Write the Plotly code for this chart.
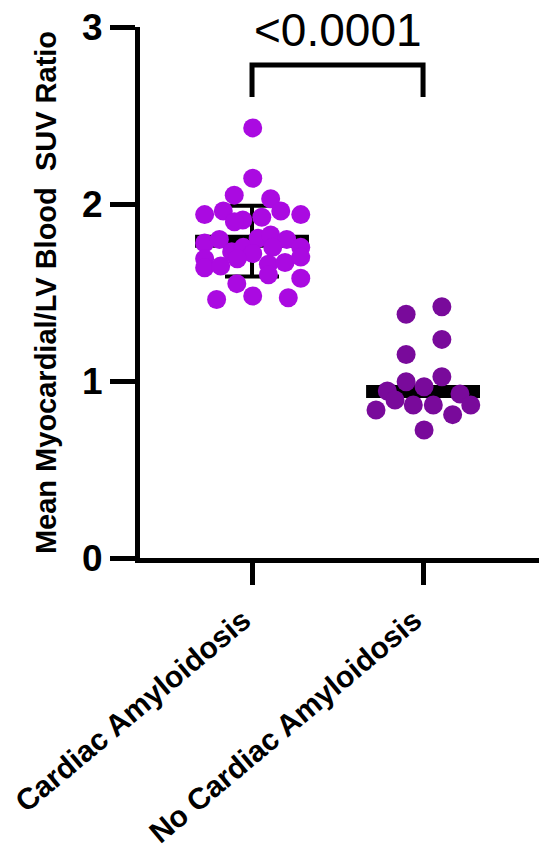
import plotly.graph_objects as go

categories = ["Cardiac Amyloidosis", "No Cardiac Amyloidosis"]

# group 1: Cardiac Amyloidosis (values and horizontal scatter offsets in category units)
ca_values = [2.43, 2.145, 2.05, 2.03, 1.94, 1.96, 1.91, 1.90, 1.925, 1.96, 1.94,
             1.78, 1.80, 1.73, 1.755, 1.806, 1.825, 1.80, 1.755, 1.72, 1.69, 1.755,
             1.69, 1.64, 1.65, 1.66, 1.67, 1.70, 1.60, 1.58, 1.55, 1.48, 1.46, 1.47]
ca_offsets = [0.004, 0.004, -0.104, 0.109, -0.277, -0.168, -0.054, -0.103, 0.057, 0.168, 0.285,
              -0.277, -0.191, -0.119, -0.051, 0.036, 0.109, 0.203, 0.285, 0.004, -0.086, 0.121,
              -0.277, -0.277, -0.183, 0.096, 0.193, 0.285, 0.096, 0.285, -0.089, 0.004, -0.207, 0.212]

# group 2: No Cardiac Amyloidosis
nca_values = [1.377, 1.42, 1.235, 1.15, 1.024, 0.996, 0.968, 0.943,
              0.893, 0.864, 0.864, 0.927, 0.864, 0.836, 0.81, 0.723]
nca_offsets = [-0.099, 0.110, 0.110, -0.099, 0.110, -0.099, 0.006, -0.209,
               -0.164, -0.057, 0.060, 0.216, 0.279, -0.275, 0.173, 0.006]

center_values = [1.79, 0.94]
error_sd = [0.20, None]
p_text = "<0.0001"
bracket_y = [2.605, 2.785]

yticks = [0, 1, 2, 3]
ytitle = "Mean Myocardial/LV Blood  SUV Ratio"

colors = ["#AA0AE1", "#790A9B"]
FONT = "Arial, Liberation Sans, sans-serif"

fig = go.Figure()

# error bar (group 1 only)
fig.add_trace(go.Scatter(
    x=[0], y=[center_values[0]], mode="markers",
    marker=dict(size=1, color="rgba(0,0,0,0)"),
    error_y=dict(type="data", array=[error_sd[0]], thickness=4, width=27, color="black"),
    showlegend=False, hoverinfo="skip"))

# mean lines
half = 0.333
for i, c in enumerate(center_values):
    fig.add_trace(go.Scatter(
        x=[i - half, i + half], y=[c, c], mode="lines",
        line=dict(color="black", width=13), showlegend=False, hoverinfo="skip"))

# dots
groups = [(ca_values, ca_offsets), (nca_values, nca_offsets)]
for i, (vals, offs) in enumerate(groups):
    fig.add_trace(go.Scatter(
        x=[i + o for o in offs], y=vals, mode="markers",
        marker=dict(size=19, color=colors[i], line=dict(width=0)),
        showlegend=False, cliponaxis=False))

# significance bracket
fig.add_shape(type="path",
              path=f"M 0,{bracket_y[0]} L 0,{bracket_y[1]} L 1,{bracket_y[1]} L 1,{bracket_y[0]}",
              xref="x", yref="y", line=dict(color="black", width=5))
fig.add_annotation(x=0.5, y=2.985, xref="x", yref="y", text=p_text, showarrow=False,
                   yanchor="middle", font=dict(family=FONT, size=46, color="black"))

fig.update_layout(
    width=539, height=852,
    margin=dict(l=140, r=0, t=27, b=294),
    plot_bgcolor="white", paper_bgcolor="white",
    font=dict(family=FONT, color="black"),
)
fig.update_xaxes(
    range=[-0.655, 1.678], tickvals=[0, 1], ticktext=categories,
    tickangle=-40, tickfont=dict(family=FONT, size=30, color="black", weight="bold"),
    ticklabelshift=-9, ticklabelstandoff=6,
    showgrid=False, zeroline=False, showline=True, linewidth=5, linecolor="black",
    ticks="outside", ticklen=22, tickwidth=5, tickcolor="black",
)
fig.update_yaxes(
    range=[0, 3], tickvals=yticks,
    tickfont=dict(family=FONT, size=37, color="black", weight="bold"),
    showgrid=False, zeroline=False, showline=True, linewidth=5, linecolor="black",
    ticks="outside", ticklen=25, tickwidth=5, tickcolor="black",
    title=dict(text=ytitle, font=dict(family=FONT, size=29, color="black", weight="bold"), standoff=18),
)

# remove the page's default body margin so the figure sits at the window's top-left corner
fig.write_html("out.html", config={"displayModeBar": False},
               post_script="document.body.style.margin='0';")
